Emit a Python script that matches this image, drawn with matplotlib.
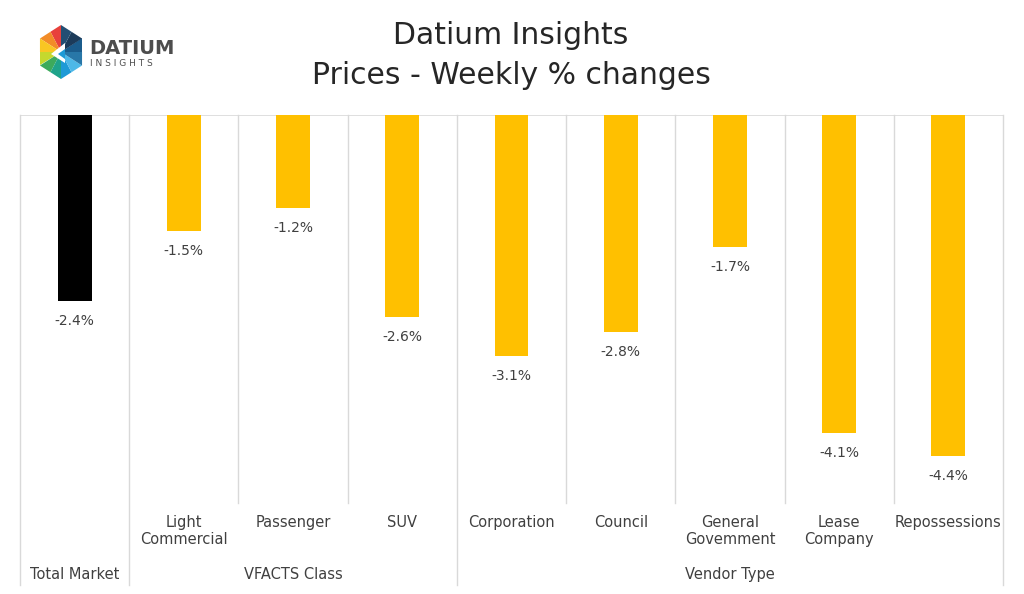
import numpy as np
import matplotlib
matplotlib.use('Agg')
import matplotlib.pyplot as plt
from matplotlib.patches import Polygon
from matplotlib.transforms import blended_transform_factory

# data
categories = ['Total Market', 'Light\nCommercial', 'Passenger', 'SUV', 'Corporation',
              'Council', 'General\nGovemment', 'Lease\nCompany', 'Repossessions']
values = [-2.4, -1.5, -1.2, -2.6, -3.1, -2.8, -1.7, -4.1, -4.4]
groups = ['Total Market', 'VFACTS Class', 'Vendor Type']
group_spans = [(0, 0), (1, 3), (4, 8)]
bar_colors = ['#000000'] + ['#FFC000'] * 8

plt.rcParams['font.family'] = 'DejaVu Sans'
W, H = 1024, 594
fig = plt.figure(figsize=(W / 100, H / 100), dpi=100)

# plot area in pixel coordinates
x0, x1, y_top, y_bot = 20, 1003, 115, 503
ax = fig.add_axes([x0 / W, 1 - y_bot / H, (x1 - x0) / W, (y_bot - y_top) / H])
x = np.arange(len(categories))
ax.bar(x, values, width=0.31, color=bar_colors, zorder=3)
ax.set_xlim(-0.5, len(categories) - 0.5)
ax.set_ylim(-5.0, 0)
for s in ax.spines.values():
    s.set_visible(False)
ax.set_xticks([])
ax.set_yticks([])

grid_c = '#D9D9D9'
ax.axhline(0, color=grid_c, lw=1.2, zorder=1)
tr = blended_transform_factory(ax.transData, ax.transAxes)
group_edges = {-0.5, 0.5, 3.5, len(categories) - 0.5}
low = -(585 - y_bot) / (y_bot - y_top)
for b in np.arange(-0.5, len(categories), 1.0):
    y_end = low if b in group_edges else 0
    ax.plot([b, b], [y_end, 1], color=grid_c, lw=1, transform=tr, clip_on=False, zorder=1)

for xi, v in zip(x, values):
    ax.annotate(f'{v:.1f}%', (xi, v), xytext=(0, -20), textcoords='offset pixels',
                ha='center', va='center', fontsize=10, color='#404040')

# category labels
for xi, lab in zip(x, categories):
    if xi == 0:
        continue
    ax.text(xi, -0.031, lab, transform=tr, ha='center', va='top', fontsize=10.5,
            color='#404040', linespacing=1.2)
for g, (a, b) in zip(groups, group_spans):
    ax.text((a + b) / 2, -0.183, g, transform=tr, ha='center', va='center',
            fontsize=10.5, color='#404040')

# title
fig.text(511 / W, 1 - 36 / H, 'Datium Insights', ha='center', va='center', fontsize=21.5, color='#262626')
fig.text(511 / W, 1 - 75 / H, 'Prices - Weekly % changes', ha='center', va='center', fontsize=21.5, color='#262626')

# logo
lax = fig.add_axes([0, 1 - 110 / H, 260 / W, 110 / H])
lax.set_xlim(0, 260)
lax.set_ylim(110, 0)
lax.axis('off')
cx, cy, r = 61, 52, 27
angs = np.deg2rad([90, 150, 210, 270, 330, 30, 90])
vx = cx + r * np.cos(angs) * 0.9
vy = cy - r * np.sin(angs)
logo_cols = [('#E8413C', '#F28C28'), ('#F9C623', '#C5D82E'), ('#3DAA5C', '#1FA38A'),
             ('#1E9AD6', '#4DB8E8'), ('#2877A8', '#1B5C8C'), ('#1C3B5A', '#244E73')]
for i, (c1, c2) in enumerate(logo_cols):
    mx, my = (vx[i] + vx[i + 1]) / 2, (vy[i] + vy[i + 1]) / 2
    lax.add_patch(Polygon([(cx, cy), (vx[i], vy[i]), (mx, my)], color=c1, lw=0))
    lax.add_patch(Polygon([(cx, cy), (mx, my), (vx[i + 1], vy[i + 1])], color=c2, lw=0))
lax.add_patch(Polygon([(cx - 10, cy + 2), (cx + 4, cy - 9), (cx + 4, cy + 11)], color='white', lw=0))
lax.add_patch(Polygon([(cx - 3, cy + 2), (cx + 4, cy - 3), (cx + 4, cy + 7)], color='#1E9AD6', lw=0))
lax.text(89, 49, 'DATIUM', fontsize=14, color='#4D4D4D', va='center', ha='left', fontweight='bold')
lax.text(90, 63, 'I N S I G H T S', fontsize=6.5, color='#4D4D4D', va='center', ha='left')

fig.savefig('out.png', dpi=100)
